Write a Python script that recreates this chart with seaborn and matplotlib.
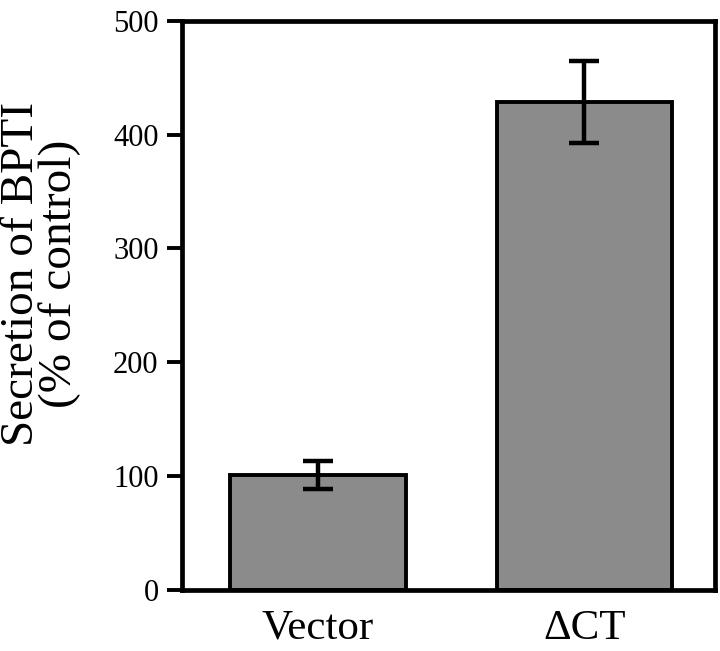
import numpy as np
import pandas as pd
import matplotlib
matplotlib.use("Agg")
import matplotlib.pyplot as plt
import seaborn as sns

# ============================
#       Data
# ============================
groups = ["Vector", "\u0394CT"]
secretion = [101, 429]
sem = [12, 36]

df = pd.DataFrame({"group": groups, "secretion": secretion, "sem": sem})

# ============================
#       Style
# ============================
sns.set_theme(style="ticks")
plt.rcParams["font.family"] = ["Liberation Serif", "DejaVu Serif"]
plt.rcParams["text.color"] = "black"
plt.rcParams["axes.labelcolor"] = "black"
plt.rcParams["xtick.color"] = "black"
plt.rcParams["ytick.color"] = "black"

fig = plt.figure(figsize=(7.2, 6.51), dpi=100)
ax = fig.add_axes([0.253, 0.094, 0.740, 0.874])

sns.barplot(data=df, x="group", y="secretion", color="#8b8b8b", width=0.66,
            edgecolor="black", linewidth=2.8, saturation=1, errorbar=None, ax=ax)

# error bars from the sem column
ax.errorbar(x=np.arange(len(df)), y=df["secretion"], yerr=df["sem"], fmt="none",
            ecolor="black", elinewidth=3.2, capsize=11, capthick=3.2, zorder=5)

ax.set_ylim(0, 500)
ax.set_xlim(-0.51, 1.49)
ax.set_yticks([0, 100, 200, 300, 400, 500])
ax.set_xlabel("")
ax.set_ylabel("Secretion of BPTI\n(% of control)", fontsize=34, linespacing=0.85)
ax.yaxis.set_label_coords(-0.19, 0.555)

for side in ["left", "right", "top", "bottom"]:
    ax.spines[side].set_visible(True)
    ax.spines[side].set_linewidth(3.4)
    ax.spines[side].set_color("black")

ax.tick_params(axis="y", length=11, width=2.8, labelsize=22, pad=6, direction="out")
ax.tick_params(axis="x", length=0, labelsize=31, pad=14)

fig.savefig("out.png", dpi=100, facecolor="white")
